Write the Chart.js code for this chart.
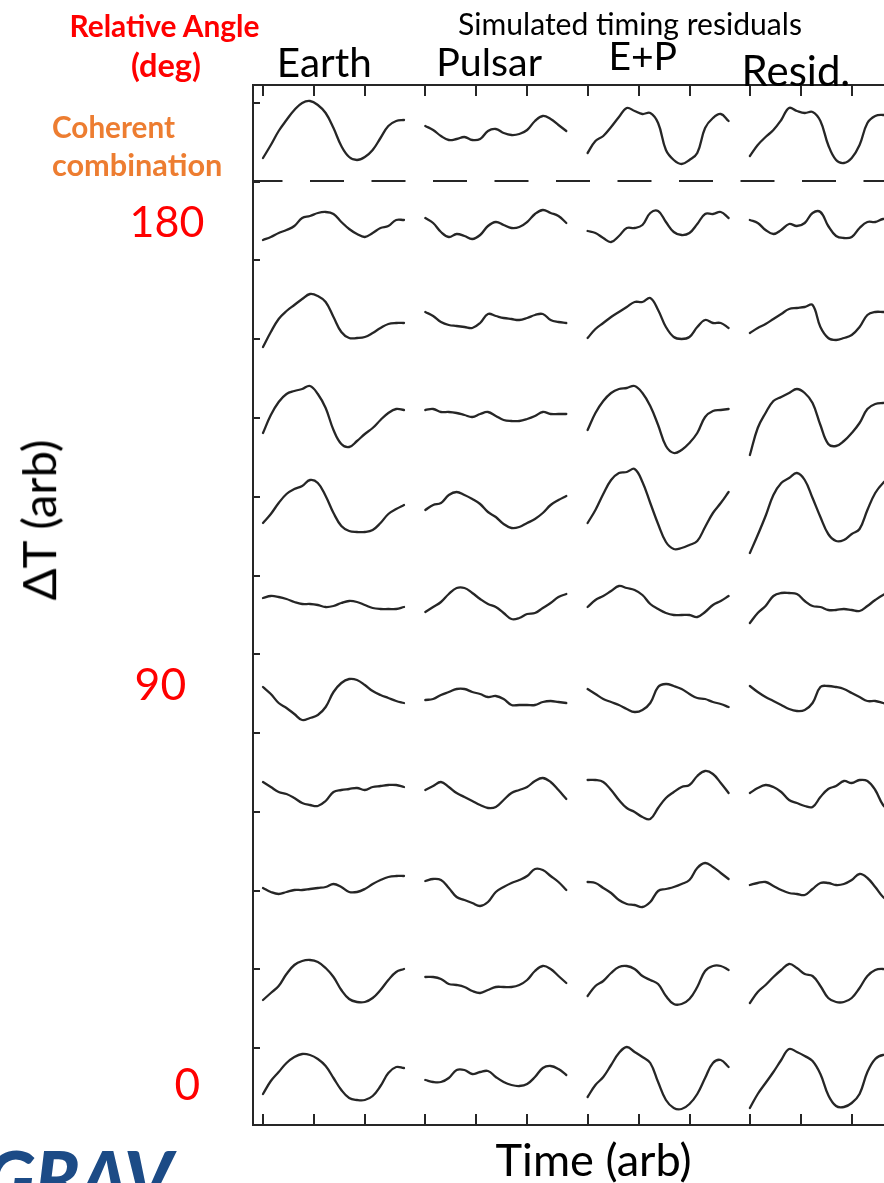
<!DOCTYPE html>
<html><head><meta charset="utf-8">
<script src="https://cdn.jsdelivr.net/npm/chart.js@4.4.1/dist/chart.umd.min.js"></script>
<style>
html,body{margin:0;padding:0;background:#fff;overflow:hidden}
#wrap{position:relative;width:884px;height:1183px;overflow:hidden;background:#fff}
canvas{position:absolute;left:0;top:0}
.t{position:absolute;white-space:nowrap;line-height:1;font-family:Lato,'Open Sans',sans-serif;margin:0;padding:0}
</style></head><body>
<div id="wrap"><canvas id="c" width="884" height="1183"></canvas></div>
<script>
// ---------- data ----------
const columns = ["Earth", "Pulsar", "E+P", "Resid."];
const rowNames = ["Coherent combination", "180", "160", "140", "120", "100", "80", "60", "40", "20", "0"];
const angleTickLabels = ["180", "90", "0"];
const angleHeader = ["Relative Angle", "(deg)"];
const coherentHeader = ["Coherent", "combination"];
const chartTitle = "Simulated timing residuals";
const xTitle = "Time (arb)";
const yTitle = "ΔT (arb)";

// ΔT (arb) samples, 19 per trace, rows: coherent, 180 ... 0
const earth = [
  [-28,-15,-1,10,20,27,29,25,17,2,-16,-27,-30,-27,-20,-8,4,9,10],
  [-14,-11,-7,-4,0,8,10,13,14,12,4,-3,-8,-11,-7,-2,0,6,6],
  [-27,-12,1,9,15,21,26,24,18,3,-12,-18,-18,-17,-13,-8,-4,-3,-3],
  [-19,-1,12,20,23,25,28,20,6,-16,-30,-33,-27,-20,-14,-6,1,5,4],
  [-15,-6,5,14,19,22,28,25,12,-5,-18,-23,-24,-24,-22,-15,-6,-1,3],
  [4,6,5,3,0,-2,-2,-3,-5,-4,-1,1,0,-3,-6,-7,-7,-7,-5],
  [9,2,-7,-12,-18,-24,-22,-19,-11,4,13,17,16,11,5,1,-2,-5,-7],
  [8,3,-2,-4,-8,-13,-15,-16,-11,-2,0,1,2,0,3,4,5,5,3],
  [-4,-8,-10,-8,-6,-6,-5,-4,-3,0,-3,-8,-8,-5,0,4,7,8,8],
  [-22,-15,-8,4,13,17,18,16,10,1,-12,-21,-24,-24,-20,-12,-2,6,9],
  [-22,-9,0,9,15,18,17,13,6,-6,-18,-26,-28,-28,-24,-14,-1,5,4]
];
const pulsar = [
  [4,0,-6,-10,-9,-7,-10,-9,-1,1,-3,-5,-4,0,9,14,11,5,-1],
  [8,3,-6,-11,-8,-10,-13,-9,0,4,1,-2,-1,4,12,16,13,10,3],
  [8,4,-2,-5,-6,-7,-8,-3,6,4,2,1,0,2,5,6,0,-2,-3],
  [4,5,2,2,1,-1,-3,0,2,-2,-6,-7,-7,-5,-2,2,0,0,0],
  [-2,3,5,13,16,13,9,4,-4,-9,-16,-20,-19,-15,-11,-5,3,8,12],
  [-10,-5,0,8,14,14,9,3,-2,-5,-11,-17,-16,-12,-11,-6,-1,5,8],
  [-4,-3,1,4,7,7,4,2,-1,0,-3,-9,-9,-9,-9,-6,-5,-6,-7],
  [0,4,8,3,-3,-7,-11,-15,-18,-17,-10,-3,0,3,9,12,8,0,-9],
  [3,5,4,-4,-13,-16,-19,-22,-18,-8,-3,1,4,8,15,14,8,2,-6],
  [1,1,-1,-6,-7,-9,-13,-15,-12,-9,-9,-9,-7,-2,7,12,9,2,-5],
  [-8,-10,-10,-6,2,2,-2,0,1,-5,-10,-13,-14,-12,-5,4,6,3,-3]
];
const earthPlusPulsar = [
  [-23,-11,-6,3,13,22,19,16,17,7,-20,-30,-34,-30,-23,2,12,16,9],
  [-5,-7,-12,-16,-10,-2,-2,1,13,15,4,-6,-9,-7,2,12,12,14,8],
  [-18,-9,-3,3,8,13,18,18,22,10,-7,-17,-19,-17,-7,0,-3,-3,-8],
  [-16,1,13,21,25,26,28,21,8,-11,-32,-39,-36,-29,-19,-3,3,4,5],
  [-15,-2,14,28,35,36,39,26,5,-16,-34,-41,-40,-37,-33,-19,-5,5,16],
  [-5,2,6,11,16,14,12,7,-2,-7,-11,-13,-13,-13,-15,-10,-3,1,6],
  [7,2,-3,-6,-9,-13,-16,-14,-7,9,12,10,7,2,-2,-3,-6,-8,-11],
  [10,10,8,0,-10,-18,-22,-27,-29,-18,-8,-2,3,5,14,19,16,7,-3],
  [2,1,-4,-9,-16,-20,-21,-23,-18,-7,-5,-3,0,4,16,21,17,11,5],
  [-18,-8,-3,5,11,12,9,2,-2,-6,-18,-26,-26,-21,-9,7,12,12,8],
  [-25,-13,-5,7,19,25,20,15,9,-10,-28,-36,-37,-32,-22,-6,9,12,5]
];
const residual = [
  [-26,-15,-7,0,10,22,19,17,18,9,-15,-30,-33,-28,-15,7,14,15,14],
  [6,3,-4,-8,-4,2,0,3,13,14,0,-10,-12,-11,-2,4,4,7,7],
  [-13,-8,-4,1,6,11,12,13,15,-7,-18,-20,-18,-15,-7,5,8,8,8],
  [-41,-14,1,13,17,21,25,21,11,-11,-30,-32,-27,-19,-9,5,10,11,11],
  [-45,-27,-8,13,25,30,35,28,10,-9,-26,-33,-32,-26,-21,-2,15,25,31],
  [-21,-11,-4,6,9,9,8,1,-4,-5,-8,-8,-7,-8,-9,-4,2,7,10],
  [10,4,-1,-5,-9,-13,-15,-14,-7,9,10,9,7,3,-1,-5,-5,-7,-9],
  [-3,2,5,3,-2,-10,-13,-16,-17,-7,1,4,9,7,10,9,0,-15,-22],
  [-1,1,2,-2,-6,-9,-10,-11,-5,1,1,-1,0,4,10,6,-3,-13,-18],
  [-25,-14,-7,1,8,14,10,4,2,-8,-20,-24,-24,-20,-10,2,8,9,7],
  [-36,-22,-11,0,12,23,20,16,11,-2,-23,-34,-35,-31,-22,0,13,17,15]
];
const seriesByColumn = [earth, pulsar, earthPlusPulsar, residual];

// ---------- layout (scale units ~ pixels) ----------
const X_MAX = 631, Y_MAX = 1040;
const PANEL0 = 10, PANEL_STEP = 162.3, TRACE_SPAN = 141;
const xTickOffsets = [0, 51, 102];
const rowCenter = r => Y_MAX + 85 - (r === 0 ? 130 : 226 + 94 * (r - 1));
const dashY = Y_MAX + 85 - 181;
const yTickVals = Array.from({length: 13}, (_, k) => Y_MAX + 85 - (103 + 78.75 * k));
const INK = '#262626';

const datasets = [];
seriesByColumn.forEach((rows, c) => {
  const x0 = PANEL0 + PANEL_STEP * c;
  rows.forEach((vals, r) => {
    const step = TRACE_SPAN / (vals.length - 1);
    datasets.push({
      label: columns[c] + ' ' + rowNames[r],
      data: vals.map((v, i) => ({x: x0 + i * step, y: rowCenter(r) + v})),
      borderColor: INK, borderWidth: 2.3, pointRadius: 0, tension: 0.4, fill: false,
      borderCapStyle: 'round', borderJoinStyle: 'round'
    });
  });
});
datasets.push({
  label: 'separator',
  data: [{x: 0, y: dashY}, {x: X_MAX, y: dashY}],
  borderColor: INK, borderWidth: 2, pointRadius: 0, borderDash: [34, 27.5], borderDashOffset: 4.5, fill: false
});

const framePlugin = {
  id: 'frame',
  afterDatasetsDraw(chart) {
    const {ctx, chartArea: a, scales: {x, y}} = chart;
    ctx.save();
    ctx.strokeStyle = INK; ctx.lineWidth = 2; ctx.lineCap = 'butt';
    ctx.beginPath();
    ctx.moveTo(a.left, a.top); ctx.lineTo(a.left, a.bottom);
    ctx.moveTo(a.left - 1, a.top); ctx.lineTo(a.right, a.top);
    ctx.moveTo(a.left - 1, a.bottom); ctx.lineTo(a.right, a.bottom);
    for (let c = 0; c < columns.length; c++) {
      xTickOffsets.forEach(o => {
        const px = Math.round(x.getPixelForValue(PANEL0 + PANEL_STEP * c + o));
        if (px > a.right) return;
        ctx.moveTo(px, a.top); ctx.lineTo(px, a.top + 11);
        ctx.moveTo(px, a.bottom); ctx.lineTo(px, a.bottom - 11);
      });
    }
    yTickVals.forEach(v => {
      const py = Math.round(y.getPixelForValue(v));
      ctx.moveTo(a.left, py); ctx.lineTo(a.left + 7, py);
    });
    ctx.stroke();
    ctx.restore();
  }
};

new Chart(document.getElementById('c'), {
  type: 'line',
  data: {datasets},
  options: {
    responsive: false, animation: false, events: [],
    layout: {padding: {left: 253, top: 85, right: 0, bottom: 58}},
    plugins: {legend: {display: false}, tooltip: {enabled: false}, title: {display: false}},
    scales: {
      x: {type: 'linear', min: 0, max: X_MAX, display: false},
      y: {type: 'linear', min: 0, max: Y_MAX, display: false}
    }
  },
  plugins: [framePlugin]
});

// ---------- text ----------
const mctx = document.createElement('canvas').getContext('2d');
function place(text, o) {
  const fam = o.family || "Lato, 'Open Sans', sans-serif";
  const wt = o.weight || 'normal', st = o.style || 'normal';
  mctx.font = `${st} ${wt} 100px ${fam}`;
  let m = mctx.measureText(text);
  const fs = 100 * o.w / (m.actualBoundingBoxLeft + m.actualBoundingBoxRight);
  mctx.font = `${st} ${wt} ${fs}px ${fam}`;
  m = mctx.measureText(text);
  const fA = m.fontBoundingBoxAscent, fD = m.fontBoundingBoxDescent;
  const base = (fs - (fA + fD)) / 2 + fA;
  const gx = (m.actualBoundingBoxRight - m.actualBoundingBoxLeft) / 2;
  const gy = base + (m.actualBoundingBoxDescent - m.actualBoundingBoxAscent) / 2;
  const d = document.createElement('div');
  d.className = 't'; d.textContent = text;
  d.style.fontFamily = fam; d.style.fontWeight = wt; d.style.fontStyle = st;
  d.style.fontSize = fs + 'px'; d.style.color = o.color || '#000';
  d.style.left = (o.cx - gx) + 'px'; d.style.top = (o.cy - gy) + 'px';
  if (o.rot) { d.style.transformOrigin = `${gx}px ${gy}px`; d.style.transform = `rotate(${o.rot}deg)`; }
  document.getElementById('wrap').appendChild(d);
}
const RED = '#ff0000', ORANGE = '#ed7d31';
place(angleHeader[0], {cx: 166, cy: 28.5, w: 188, weight: 'bold', color: RED});
place(angleHeader[1], {cx: 166, cy: 67.5, w: 68, weight: 'bold', color: RED});
place(coherentHeader[0], {cx: 114, cy: 127, w: 122, weight: 'bold', color: ORANGE});
place(coherentHeader[1], {cx: 137, cy: 165, w: 168, weight: 'bold', color: ORANGE});
place(chartTitle, {cx: 630, cy: 26.5, w: 342});
const colHead = [{cx: 324.5, cy: 62.5, w: 89}, {cx: 491, cy: 62, w: 102}, {cx: 644, cy: 56.5, w: 64}, {cx: 796.5, cy: 71, w: 103}];
columns.forEach((t, i) => place(t, colHead[i]));
const angPos = [{cx: 168, cy: 222.5, w: 70}, {cx: 161, cy: 685, w: 48}, {cx: 187.5, cy: 1085, w: 23}];
angleTickLabels.forEach((t, i) => place(t, Object.assign({color: RED}, angPos[i])));
place(xTitle, {cx: 593, cy: 1162, w: 194});
place(yTitle, {cx: 41, cy: 520, w: 160, rot: -90});
place("GRAV", {cx: 82, cy: 1178, w: 190, weight: '900', style: 'italic', color: '#1c4b86'});
</script>
</body></html>
